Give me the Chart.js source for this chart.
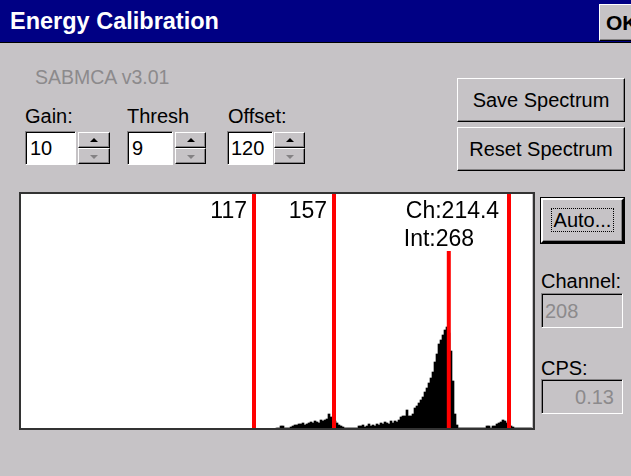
<!DOCTYPE html>
<html>
<head>
<meta charset="utf-8">
<script src="https://cdn.jsdelivr.net/npm/chart.js@4/dist/chart.umd.min.js"></script>
<style>
  body { margin: 0; width: 631px; height: 476px; background: #c6c3c6; overflow: hidden;
         font-family: "Liberation Sans", Arial, sans-serif; position: relative; }
  .abs { position: absolute; }
  .title { left: 0; top: 0; width: 631px; height: 43px; background: #000084; border-bottom: 1px solid #000;
           color: #fff; font-weight: bold; font-size: 23.5px; line-height: 43px; padding-left: 10px; box-sizing: border-box; }
  .raised { background: #c6c3c6; box-sizing: border-box; border: 1px solid; border-color: #fff #000 #000 #fff;
            box-shadow: inset -1px -1px 0 #848284; text-align: center; color: #000; }
  .sunken { box-sizing: border-box; border: 1px solid; border-color: #848284 #fff #fff #848284;
            box-shadow: inset 1px 1px 0 #000; }
  .edit { background: #fff; font-size: 20px; line-height: 32px; padding-left: 4px; }
  .lbl { font-size: 20px; }
  .up, .dn { width: 0; height: 0; border-left: 4px solid transparent; border-right: 4px solid transparent; position: absolute; left: 11px; }
  .up { border-bottom: 4px solid #000; top: 5px; }
  .dn { border-top: 4px solid #848284; top: 6px; }
</style>
</head>
<body>
<div class="abs title">Energy Calibration</div>
<div class="abs raised" style="left:599px;top:4px;width:40px;height:37px;font-weight:bold;font-size:21px;line-height:35px;text-align:left;padding-left:6px;">OK</div>

<div class="abs" style="left:35px;top:66px;font-size:19.5px;color:#8c8a8c;">SABMCA v3.01</div>

<div class="abs lbl" style="left:25px;top:105px;">Gain:</div>
<div class="abs lbl" style="left:127px;top:105px;">Thresh</div>
<div class="abs lbl" style="left:228px;top:105px;">Offset:</div>

<div class="abs sunken edit" style="left:25px;top:131px;width:51px;height:34px;">10</div>
<div class="abs raised" style="left:78px;top:132px;width:32px;height:16px;"><div class="up"></div></div>
<div class="abs raised" style="left:78px;top:148px;width:32px;height:16px;"><div class="dn"></div></div>

<div class="abs sunken edit" style="left:127px;top:131px;width:46px;height:34px;">9</div>
<div class="abs raised" style="left:175px;top:132px;width:31px;height:16px;"><div class="up"></div></div>
<div class="abs raised" style="left:175px;top:148px;width:31px;height:16px;"><div class="dn"></div></div>

<div class="abs sunken edit" style="left:227px;top:131px;width:46px;height:34px;padding-left:3px;">120</div>
<div class="abs raised" style="left:274px;top:132px;width:31px;height:16px;"><div class="up"></div></div>
<div class="abs raised" style="left:274px;top:148px;width:31px;height:16px;"><div class="dn"></div></div>

<div class="abs raised" style="left:457px;top:78px;width:168px;height:44px;font-size:20px;line-height:42px;">Save Spectrum</div>
<div class="abs raised" style="left:457px;top:127px;width:168px;height:44px;font-size:20px;line-height:42px;">Reset Spectrum</div>

<div class="abs raised" style="left:541px;top:198px;width:83px;height:45px;font-size:20px;line-height:41px;border:2px solid;border-color:#fff #000 #000 #fff;outline:1px solid #000;">
  <span style="border:1px dotted #000;padding:0 2px;">Auto...</span></div>

<div class="abs lbl" style="left:541px;top:270px;">Channel:</div>
<div class="abs sunken" style="left:541px;top:293px;width:82px;height:35px;font-size:20px;line-height:34px;padding-left:3px;color:#8c8a8c;">208</div>
<div class="abs lbl" style="left:541px;top:357px;">CPS:</div>
<div class="abs sunken" style="left:541px;top:379px;width:82px;height:35px;font-size:20px;line-height:34px;padding-right:8px;text-align:right;color:#8c8a8c;">0.13</div>

<div class="abs" style="left:20px;top:194px;width:512px;height:234px;background:#fff;">
  <canvas id="spectrum" width="512" height="234"></canvas>
</div>
<div class="abs" style="left:19px;top:192px;width:516px;height:238px;box-sizing:border-box;border:2px solid #333;pointer-events:none;"></div>

<script>
// spectrum: counts per channel, channels 128..255 (0..127 are empty)
const firstChannel = 128;
const counts = [
    0, 0, 2, 2, 0, 0, 0, 1, 2, 3, 3, 4, 4, 5, 3, 4,
    5, 6, 5, 7, 6, 5, 8, 7, 8, 9, 14, 11, 9, 7, 5, 3,
    2, 1, 0, 0, 0, 0, 0, 0, 0, 2, 2, 3, 1, 2, 4, 2,
    3, 2, 4, 3, 5, 4, 6, 5, 4, 7, 5, 7, 6, 8, 11, 12,
    12, 18, 12, 12, 14, 20, 22, 25, 28, 31, 36, 40, 45, 50, 56, 66,
    74, 84, 88, 93, 98, 101, 95, 77, 47, 14, 3, 0, 0, 0, 0, 0,
    0, 0, 0, 0, 0, 0, 0, 0, 0, 2, 2, 0, 2, 2, 4, 5,
    6, 8, 7, 5, 4, 2, 1, 0, 0, 0, 0, 0, 0, 0, 0, 0
];
// region of interest markers (channel) and the labels written next to them
const roiMarkers = [117, 157, 244.5];
const roiLabels = ['117', '157', ''];
// peak centroid marker
const peakChannel = 214.4;
const peakIntegral = 268;
const peakMarkerHeight = 177;

const numChannels = 256;
const yMax = 234;

let points = counts.map((c, i) => ({x: firstChannel + i + 0.5, y: c}));

const markerPlugin = {
    id: 'markers',
    afterDatasetsDraw(chart) {
        const ctx = chart.ctx;
        const xs = chart.scales.x, ys = chart.scales.y;
        const area = chart.chartArea;
        ctx.save();
        ctx.strokeStyle = '#ff0000';
        ctx.lineWidth = 4;
        roiMarkers.forEach((ch) => {
            let px = xs.getPixelForValue(ch);
            ctx.beginPath();
            ctx.moveTo(px, area.top);
            ctx.lineTo(px, area.bottom);
            ctx.stroke();
        });
        let pk = xs.getPixelForValue(peakChannel);
        ctx.beginPath();
        ctx.moveTo(pk, ys.getPixelForValue(peakMarkerHeight));
        ctx.lineTo(pk, area.bottom);
        ctx.stroke();

        ctx.fillStyle = '#000';
        ctx.font = "23px 'Liberation Sans'";
        ctx.textAlign = 'right';
        ctx.textBaseline = 'alphabetic';
        roiMarkers.forEach((ch, i) => {
            if (roiLabels[i]) ctx.fillText(roiLabels[i], xs.getPixelForValue(ch) - 7, area.top + 24);
        });
        ctx.textAlign = 'left';
        ctx.fillText('Ch:' + peakChannel, pk - 43, area.top + 24);
        ctx.fillText('Int:' + peakIntegral, pk - 45, area.top + 52);
        ctx.restore();
    }
};

let ctx = document.getElementById('spectrum').getContext('2d');
let spectrumChart = new Chart(ctx, {
    type: 'bar',
    data: {
        datasets: [{
            label: 'Counts',
            data: points,
            backgroundColor: '#000000',
            borderWidth: 0,
            barPercentage: 1,
            categoryPercentage: 1
        }]
    },
    options: {
        responsive: false,
        animation: false,
        layout: {padding: 0},
        plugins: {legend: {display: false}, tooltip: {enabled: false}},
        scales: {
            x: {type: 'linear', min: 0, max: numChannels, display: false, offset: false},
            y: {min: 0, max: yMax, display: false}
        }
    },
    plugins: [markerPlugin]
});
</script>
</body>
</html>
